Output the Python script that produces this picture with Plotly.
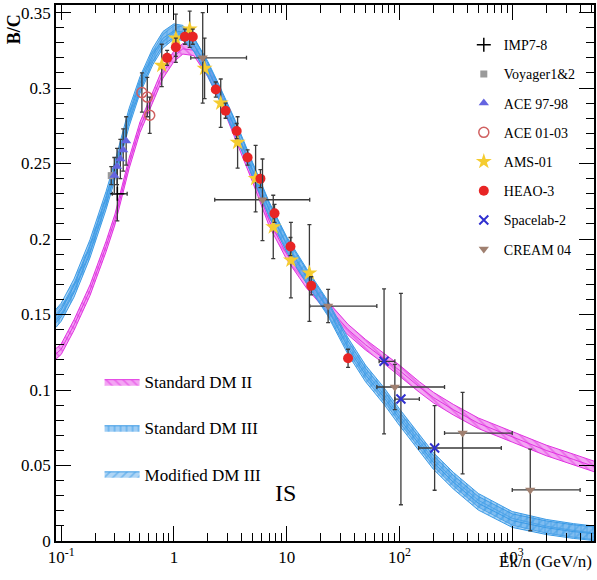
import plotly.graph_objects as go
import math

# ---------------- model bands (B/C vs Ek/n) ----------------
E_model = [0.09, 0.1, 0.13, 0.18, 0.25, 0.3, 0.4, 0.5, 0.65, 0.8, 1.0, 1.2, 1.5, 2.0, 2.5,
           3.5, 5, 7, 10, 15, 23, 35, 50, 73, 100, 150, 200, 300, 500, 1000, 2000, 3500, 5500]
std_dm2 = [0.124, 0.127, 0.143, 0.166, 0.195, 0.213, 0.250, 0.274, 0.294, 0.310, 0.321, 0.326,
           0.325, 0.311, 0.297, 0.270, 0.241, 0.212, 0.190, 0.171, 0.155, 0.140, 0.130, 0.121,
           0.113, 0.102, 0.095, 0.087, 0.078, 0.069, 0.060, 0.054, 0.049]
std_dm3 = [0.146, 0.150, 0.166, 0.192, 0.224, 0.244, 0.279, 0.301, 0.320, 0.331, 0.337, 0.336,
           0.329, 0.313, 0.298, 0.274, 0.246, 0.220, 0.197, 0.176, 0.155, 0.130, 0.112, 0.097,
           0.083, 0.066, 0.054, 0.041, 0.027, 0.0150, 0.0098, 0.0070, 0.0053]
mod_dm3 = [0.149, 0.153, 0.169, 0.195, 0.227, 0.247, 0.282, 0.303, 0.322, 0.333, 0.338, 0.337,
           0.329, 0.312, 0.297, 0.273, 0.245, 0.219, 0.196, 0.175, 0.154, 0.128, 0.110, 0.095,
           0.081, 0.064, 0.052, 0.039, 0.025, 0.0135, 0.0088, 0.0062, 0.0047]
hw_dm2 = 0.0035
hw_dm3 = 0.0045

# ---------------- data points ----------------
imp_E = [0.315]; imp_y = [0.230]; imp_ey = [0.018]; imp_lo = [0.284]; imp_hi = [0.385]
voy_E = [0.278]; voy_y = [0.242]; voy_ey = [0.006]
ace9_E = [0.296, 0.313, 0.335, 0.355, 0.377]
ace9_y = [0.242, 0.248, 0.253, 0.259, 0.265]
ace9_ey = [0.012, 0.012, 0.013, 0.014, 0.016]
ace0_E = [0.52, 0.58, 0.61]
ace0_y = [0.297, 0.294, 0.282]
ace0_ey = [0.013, 0.013, 0.012]
ams_E = [0.78, 1.04, 1.38, 1.87, 2.6, 3.67, 5.3, 7.6, 10.9, 15.9]
ams_y = [0.315, 0.333, 0.339, 0.313, 0.290, 0.264, 0.240, 0.208, 0.186, 0.1775]
ams_ey = [0.014, 0.016, 0.012, 0.020, 0.016, 0.017, 0.022, 0.021, 0.025, 0.032]
heao_E = [0.87, 1.04, 1.25, 1.47, 2.35, 2.87, 3.6, 4.5, 5.85, 7.8, 10.8, 16.5, 35]
heao_y = [0.320, 0.327, 0.334, 0.334, 0.299, 0.285, 0.2715, 0.254, 0.240, 0.217, 0.195, 0.169, 0.121]
heao_ey = [0.005, 0.006, 0.005, 0.005, 0.005, 0.005, 0.005, 0.005, 0.006, 0.006, 0.006, 0.006, 0.006]
sl2_E = [73, 103, 205]
sl2_y = [0.119, 0.094, 0.0616]
sl2_ey = [0.048, 0.070, 0.028]
sl2_lo = [66, 91, 148]
sl2_hi = [91, 150, 800]
cream_E = [1.80, 6.1, 23.3, 91, 363, 1445]
cream_y = [0.320, 0.226, 0.1556, 0.102, 0.0715, 0.0338]
cream_ey = [0.030, 0.027, 0.011, 0.015, 0.027, 0.027]
cream_lo = [1.41, 2.3, 16, 63, 251, 1000]
cream_hi = [4.4, 16, 63, 251, 1000, 4000]

x_ticks = [0.1, 1, 10, 100, 1000]
x_ticktext = ["10<sup>-1</sup>", "1", "10", "10<sup>2</sup>", "10<sup>3</sup>"]
y_ticks = [0, 0.05, 0.1, 0.15, 0.2, 0.25, 0.3, 0.35]
y_ticktext = ["0", "0.05", "0.1", "0.15", "0.2", "0.25", "0.3", "0.35"]

SERIF = "Liberation Serif"
ERRC = "#3a3a3a"

fig = go.Figure()


def band(x, c, hw, color, fill, shape, name):
    up = [v + hw for v in c]
    lo = [v - hw for v in c]
    fig.add_trace(go.Scatter(
        x=list(x) + list(x)[::-1], y=up + lo[::-1], mode="lines",
        fill="toself", fillcolor=fill,
        fillpattern=dict(shape=shape, fgcolor=color, bgcolor=fill, size=6, solidity=0.3),
        line=dict(color=color, width=1), name=name, legend="legend2",
        legendgroup=name, hoverinfo="skip"))
    fig.add_trace(go.Scatter(x=x, y=c, mode="lines", line=dict(color=color, width=1),
                             showlegend=False, legendgroup=name, hoverinfo="skip"))


band(E_model, std_dm2, hw_dm2, "rgb(225,50,225)", "rgba(235,105,235,0.6)", "\\", "Standard DM II")
band(E_model, std_dm3, hw_dm3, "rgb(60,155,230)", "rgba(95,172,236,0.6)", "|", "Standard DM III")
band(E_model, mod_dm3, hw_dm3, "rgb(60,155,230)", "rgba(95,172,236,0.5)", "/", "Modified DM III")


def pts(name, x, y, ey, marker, lo=None, hi=None):
    ex = None
    if lo is not None:
        ex = dict(type="data", symmetric=False,
                  array=[h - v for h, v in zip(hi, x)],
                  arrayminus=[v - l for l, v in zip(lo, x)],
                  color=ERRC, thickness=1.3, width=2)
    fig.add_trace(go.Scatter(
        x=x, y=y, mode="markers", name=name, marker=marker, legend="legend",
        legendgroup=name,
        error_y=dict(type="data", array=ey, color=ERRC, thickness=1.3, width=2),
        error_x=ex))


pts("IMP7-8", imp_E, imp_y, imp_ey,
    dict(symbol="cross-thin", size=10, line=dict(color="black", width=1.5), color="black"),
    imp_lo, imp_hi)
pts("Voyager1&2", voy_E, voy_y, voy_ey, dict(symbol="square", size=7, color="#9a9a9a"))
pts("ACE 97-98", ace9_E, ace9_y, ace9_ey, dict(symbol="triangle-up", size=9, color="#6464e0"))
pts("ACE 01-03", ace0_E, ace0_y, ace0_ey,
    dict(symbol="circle-open", size=10, color="#d06060", line=dict(width=1.5)))
pts("AMS-01", ams_E, ams_y, ams_ey, dict(symbol="star", size=12, color="#f5cc30"))
pts("HEAO-3", heao_E, heao_y, heao_ey, dict(symbol="circle", size=10, color="#e82525"))
pts("Spacelab-2", sl2_E, sl2_y, sl2_ey,
    dict(symbol="x-thin", size=9, color="#3030d0", line=dict(color="#3030d0", width=2)),
    sl2_lo, sl2_hi)
pts("CREAM 04", cream_E, cream_y, cream_ey,
    dict(symbol="triangle-down", size=9, color="#a08070"), cream_lo, cream_hi)

minor_x = [m * 10 ** d for d in range(-2, 4) for m in range(2, 10)]
minor_x = [v for v in minor_x if 0.09 <= v <= 5400]

fig.update_xaxes(
    type="log", range=[math.log10(0.09), 3.725],
    tickvals=x_ticks, ticktext=x_ticktext,
    ticks="inside", ticklen=15, tickwidth=1.2, tickcolor="black",
    minor=dict(tickvals=minor_x, ticks="inside", ticklen=8, tickwidth=1.2, tickcolor="black"),
    showline=True, linecolor="black", linewidth=1.5, mirror="allticks",
    showgrid=False, zeroline=False,
    tickfont=dict(family=SERIF, size=17, color="black"))
fig.update_yaxes(
    range=[0, 0.355], tickvals=y_ticks, ticktext=y_ticktext,
    ticks="inside", ticklen=15, tickwidth=1.2, tickcolor="black",
    minor=dict(dtick=0.01, ticks="inside", ticklen=8, tickwidth=1.2, tickcolor="black"),
    showline=True, linecolor="black", linewidth=1.5, mirror="allticks",
    showgrid=False, zeroline=False,
    tickfont=dict(family=SERIF, size=17, color="black"))

fig.update_layout(
    width=597, height=580, margin=dict(l=56, r=1, t=5, b=39),
    paper_bgcolor="white", plot_bgcolor="white",
    font=dict(family=SERIF, color="black"),
    legend=dict(x=0.758, y=0.955, xanchor="left", yanchor="top",
                bgcolor="rgba(0,0,0,0)", font=dict(family=SERIF, size=14),
                tracegroupgap=8, itemwidth=30),
    legend2=dict(x=0.081, y=0.33, xanchor="left", yanchor="top",
                 bgcolor="rgba(0,0,0,0)", font=dict(family=SERIF, size=17),
                 tracegroupgap=21, itemwidth=35),
    annotations=[
        dict(text="IS", xref="paper", yref="paper", x=0.427, y=0.062, showarrow=False,
             font=dict(family=SERIF, size=24)),
        dict(text="Ek/n (GeV/n)", xref="paper", yref="paper", x=1.0, y=-0.039,
             xanchor="right", yanchor="middle", showarrow=False,
             font=dict(family=SERIF, size=17)),
        dict(text="<b>B/C</b>", xref="paper", yref="paper", x=-0.078, y=0.955,
             xanchor="center", yanchor="middle", textangle=-90, showarrow=False,
             font=dict(family=SERIF, size=18)),
    ],
)

fig.write_html("out.html")
